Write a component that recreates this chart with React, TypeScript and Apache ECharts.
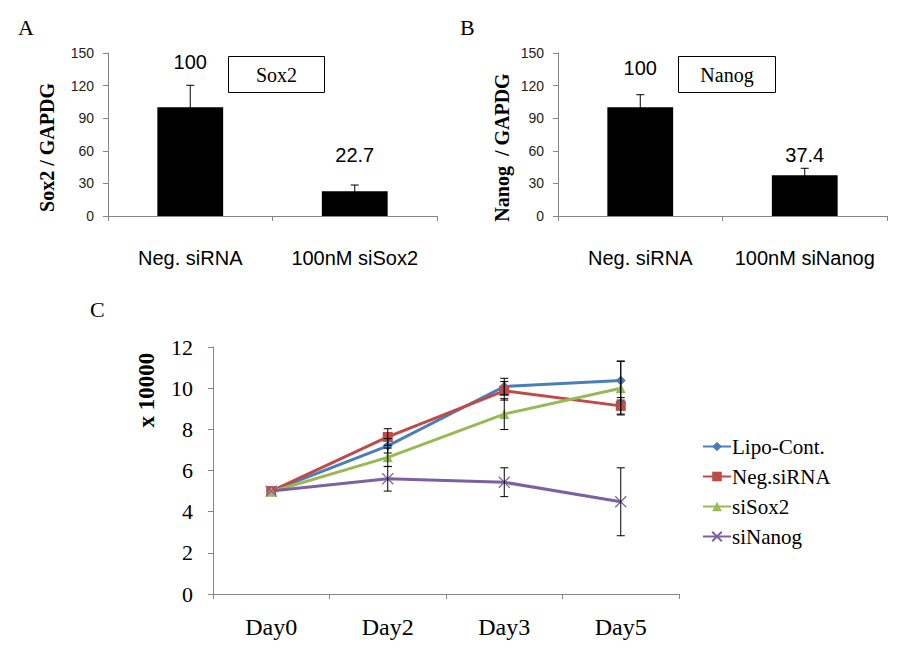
import React, { useEffect, useRef } from "react";
import * as echarts from "echarts";

// Panel A
const catsA = ["Neg. siRNA", "100nM siSox2"];
const sox2Values = [100, 22.7];
const sox2Err = [20.3, 5.8];
const sox2LabelDist = [35, 26];
// Panel B
const catsB = ["Neg. siRNA", "100nM siNanog"];
const nanogValues = [100, 37.4];
const nanogErr = [11.6, 6.5];
const nanogLabelDist = [29, 10];
const barTicks = { min: 0, max: 150, interval: 30 };
// Panel C
const days = ["Day0", "Day2", "Day3", "Day5"];
const lipo = [5.0, 7.2, 10.08, 10.37];
const lipoErr = [0, 0.35, 0.4, 0.95];
const negSi = [5.0, 7.63, 9.87, 9.14];
const negSiErr = [0, 0.4, 0.45, 0.4];
const siSox2 = [4.97, 6.64, 8.74, 10.0];
const siSox2Err = [0, 0.45, 0.75, 1.3];
const siNanog = [5.0, 5.6, 5.43, 4.48];
const siNanogErr = [0, 0.6, 0.7, 1.65];
const lineNames = ["Lipo-Cont.", "Neg.siRNA", "siSox2", "siNanog"];
const lineColors = ["#4a7ebb", "#be4b48", "#98b954", "#7d60a0"];

const SANS = "'Liberation Sans', Arial, sans-serif";
const SERIF = "'Liberation Serif', 'Times New Roman', serif";
const AXIS_GREY = "#868686";

function errRender(cap: number) {
  return (params: any, api: any) => {
    const i = api.value(0);
    const v = api.value(1);
    const e = api.value(2);
    if (!e) return null;
    const t = api.coord([i, v + e]);
    const b = api.coord([i, v - e]);
    const st = { stroke: "#000", lineWidth: 1 };
    return {
      type: "group",
      children: [
        { type: "line", shape: { x1: t[0], y1: t[1], x2: b[0], y2: b[1] }, style: st },
        { type: "line", shape: { x1: t[0] - cap, y1: t[1], x2: t[0] + cap, y2: t[1] }, style: st },
        { type: "line", shape: { x1: b[0] - cap, y1: b[1], x2: b[0] + cap, y2: b[1] }, style: st },
      ],
    };
  };
}

function barYAxis(gridIndex: number) {
  return {
    type: "value",
    gridIndex,
    ...barTicks,
    axisLine: { show: true, lineStyle: { color: AXIS_GREY } },
    axisTick: { show: true, length: 5, lineStyle: { color: AXIS_GREY } },
    axisLabel: { fontFamily: SANS, fontSize: 14, color: "#222", margin: 14 },
    splitLine: { show: false },
  };
}

function barXAxis(gridIndex: number, data: string[]) {
  return {
    type: "category",
    gridIndex,
    data,
    boundaryGap: true,
    axisLine: { show: true, lineStyle: { color: AXIS_GREY } },
    axisTick: { show: true, length: 5, alignWithLabel: false, interval: 0, lineStyle: { color: AXIS_GREY } },
    axisLabel: { fontFamily: SANS, fontSize: 20, color: "#000", margin: 32, interval: 0 },
  };
}

function barSeries(idx: number, values: number[], dists: number[]) {
  return {
    type: "bar",
    xAxisIndex: idx,
    yAxisIndex: idx,
    barWidth: "40%",
    itemStyle: { color: "#000" },
    data: values.map((v, i) => ({
      value: v,
      label: {
        show: true,
        position: "top",
        distance: dists[i],
        fontFamily: SANS,
        fontSize: 20,
        color: "#000",
      },
    })),
  };
}

function errSeries(idx: number, values: number[], errs: number[], cap: number) {
  return {
    type: "custom",
    xAxisIndex: idx,
    yAxisIndex: idx,
    renderItem: errRender(cap),
    encode: { x: 0, y: 1 },
    data: values.map((v, i) => [i, v, errs[i]]),
    z: 5,
    silent: true,
  };
}

const symbols = ["diamond", "rect", "triangle", "path://M0,0L10,10M10,0L0,10"];
const symbolSizes = [10, 10, 10, 11];
const lineData = [lipo, negSi, siSox2, siNanog];
const lineErrs = [lipoErr, negSiErr, siSox2Err, siNanogErr];

function vText(text: string, x: number, y: number, size: number) {
  return {
    type: "text",
    x,
    y,
    rotation: Math.PI / 2,
    style: {
      text,
      font: `bold ${size}px ${SERIF}`,
      fill: "#000",
      align: "center",
      verticalAlign: "middle",
    },
  };
}

export default function App() {
  const ref = useRef<HTMLDivElement>(null);
  useEffect(() => {
    if (!ref.current) return;
    const chart = echarts.init(ref.current, undefined, { renderer: "svg" });
    const option: any = {
      animation: false,
      backgroundColor: "#fff",
      grid: [
        { left: 108, top: 53, width: 329, height: 163 },
        { left: 558, top: 53, width: 329, height: 163 },
        { left: 213, top: 347, width: 466, height: 247 },
      ],
      xAxis: [
        barXAxis(0, catsA),
        barXAxis(1, catsB),
        {
          type: "category",
          gridIndex: 2,
          data: days,
          boundaryGap: true,
          axisLine: { show: true, lineStyle: { color: AXIS_GREY } },
          axisTick: { show: true, length: 5, alignWithLabel: false, interval: 0, lineStyle: { color: AXIS_GREY } },
          axisLabel: { fontFamily: SERIF, fontSize: 24, color: "#000", margin: 21, interval: 0 },
        },
      ],
      yAxis: [
        barYAxis(0),
        barYAxis(1),
        {
          type: "value",
          gridIndex: 2,
          min: 0,
          max: 12,
          interval: 2,
          axisLine: { show: true, lineStyle: { color: AXIS_GREY } },
          axisTick: { show: true, length: 5, lineStyle: { color: AXIS_GREY } },
          axisLabel: { fontFamily: SERIF, fontSize: 22, color: "#000", margin: 20 },
          splitLine: { show: false },
        },
      ],
      legend: {
        orient: "vertical",
        left: 697,
        top: 431,
        itemWidth: 28,
        itemHeight: 12,
        itemGap: 9,
        data: lineNames,
        textStyle: { fontFamily: SERIF, fontSize: 21, color: "#000", padding: [0, 0, 0, -4] },
      },
      series: [
        barSeries(0, sox2Values, sox2LabelDist),
        errSeries(0, sox2Values, sox2Err, 4),
        barSeries(1, nanogValues, nanogLabelDist),
        errSeries(1, nanogValues, nanogErr, 4),
        ...lineData.map((d, k) => ({
          type: "line",
          name: lineNames[k],
          xAxisIndex: 2,
          yAxisIndex: 2,
          data: d,
          symbol: symbols[k],
          symbolSize: symbolSizes[k],
          showAllSymbol: true,
          lineStyle: { color: lineColors[k], width: 3 },
          itemStyle: {
            color: lineColors[k],
            borderColor: lineColors[k],
            borderWidth: k === 3 ? 1.2 : 0,
          },
          z: 3,
        })),
        ...lineData.map((d, k) => errSeries(2, d, lineErrs[k], 4)),
      ],
      graphic: [
        { type: "text", left: 18, top: 16, style: { text: "A", font: `22px ${SERIF}`, fill: "#000" } },
        { type: "text", left: 460, top: 16, style: { text: "B", font: `22px ${SERIF}`, fill: "#000" } },
        { type: "text", left: 90, top: 298, style: { text: "C", font: `22px ${SERIF}`, fill: "#000" } },
        vText("Sox2 / GAPDG", 46.5, 147.5, 20),
        vText("Nanog  / GAPDG", 502, 147.5, 20),
        vText("x 10000", 146.5, 390, 23),
        {
          type: "group",
          left: 228,
          top: 56,
          children: [
            { type: "rect", shape: { x: 0, y: 0, width: 96, height: 36 }, style: { fill: "#fff", stroke: "#000", lineWidth: 1 } },
            { type: "text", x: 48, y: 18, style: { text: "Sox2", font: `20px ${SERIF}`, fill: "#000", align: "center", verticalAlign: "middle" } },
          ],
        },
        {
          type: "group",
          left: 678,
          top: 56,
          children: [
            { type: "rect", shape: { x: 0, y: 0, width: 97, height: 36 }, style: { fill: "#fff", stroke: "#000", lineWidth: 1 } },
            { type: "text", x: 48.5, y: 18, style: { text: "Nanog", font: `20px ${SERIF}`, fill: "#000", align: "center", verticalAlign: "middle" } },
          ],
        },
      ],
    };
    chart.setOption(option);
    return () => chart.dispose();
  }, []);
  return (
    <div
      ref={ref}
      style={{ position: "fixed", left: 0, top: 0, width: 903, height: 658 }}
    />
  );
}
